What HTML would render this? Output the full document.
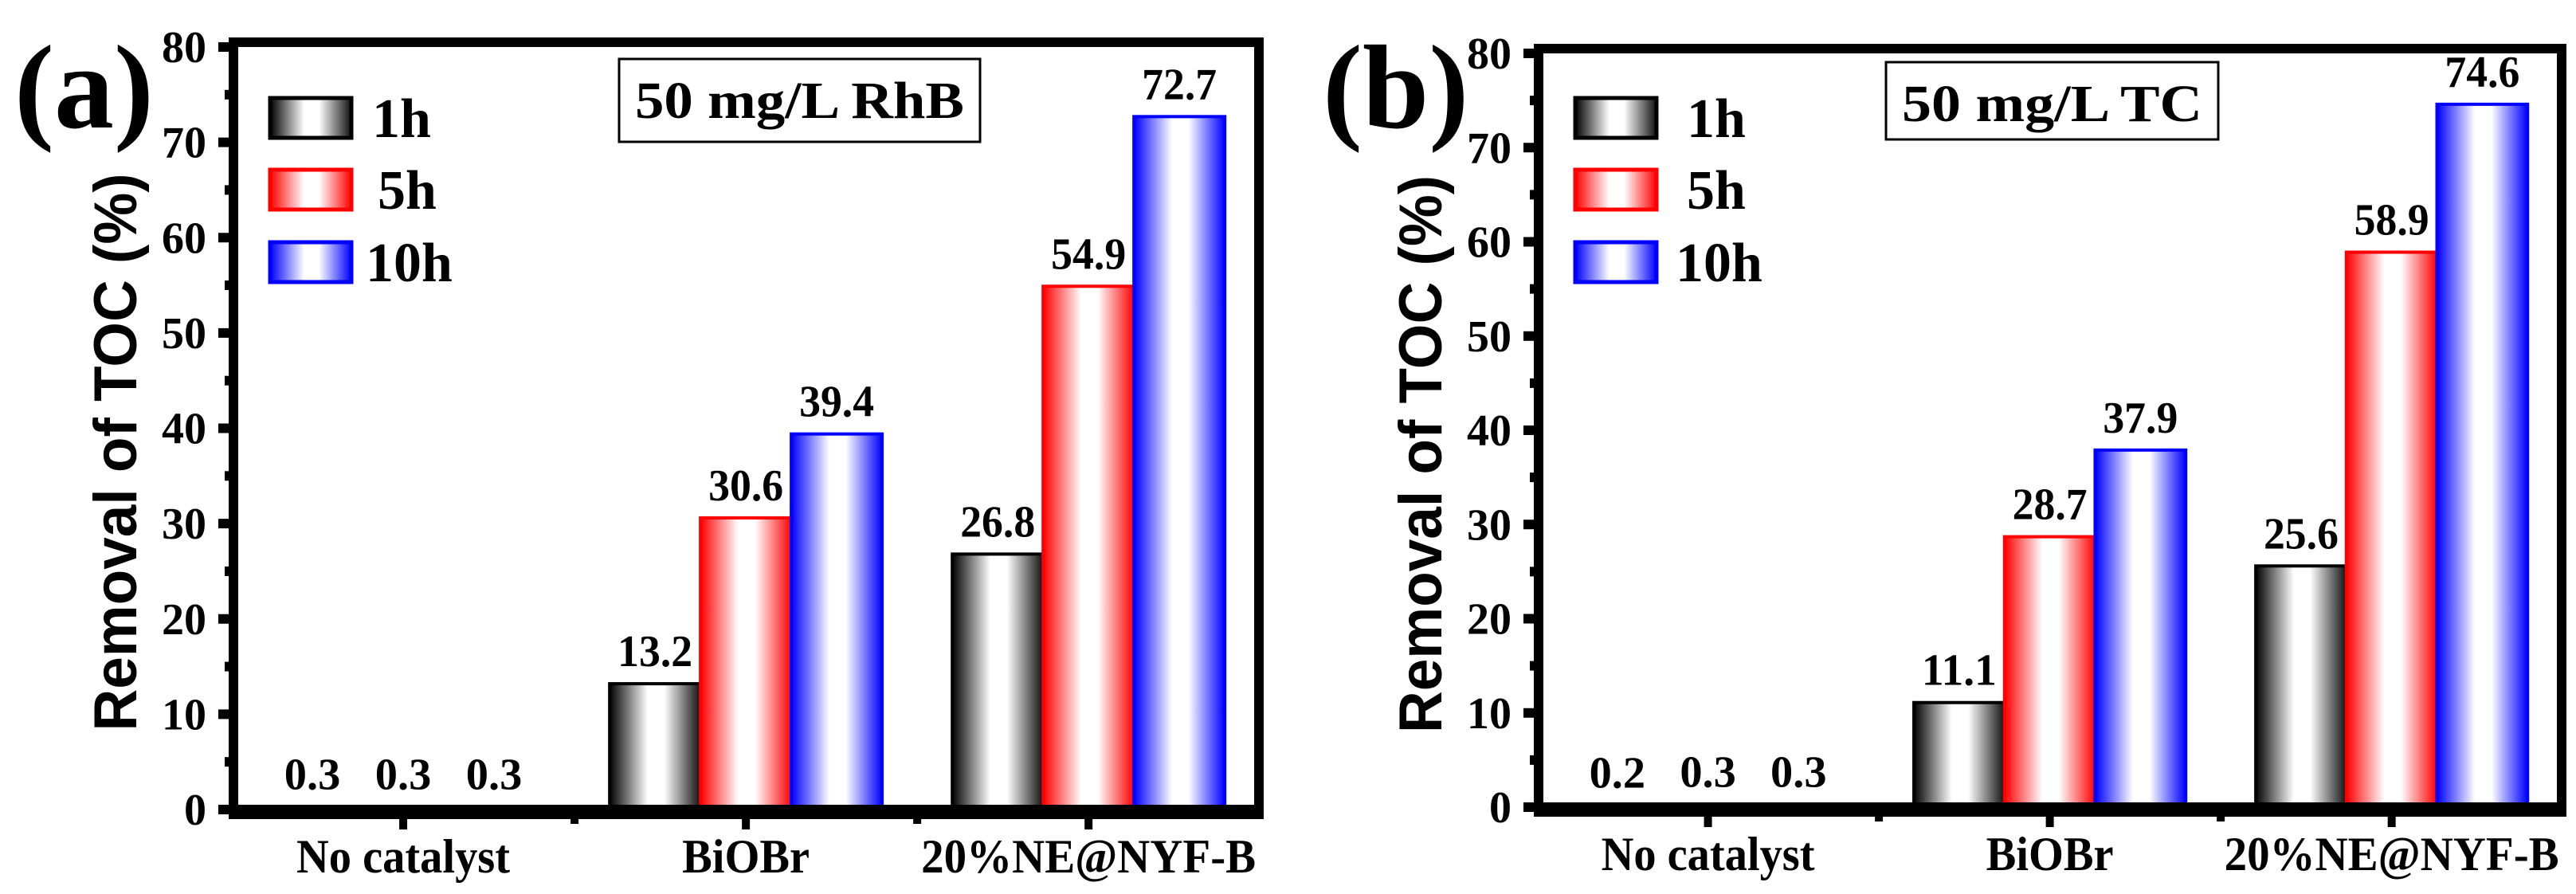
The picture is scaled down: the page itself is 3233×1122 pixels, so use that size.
<!DOCTYPE html>
<html><head><meta charset="utf-8"><style>
html,body{margin:0;padding:0;background:#fff;}
svg{display:block;}
text{font-family:"Liberation Serif",serif;font-weight:bold;fill:#000;}
.sans{font-family:"Liberation Sans",sans-serif;}
</style></head><body>
<svg id="fig" width="3233" height="1122" viewBox="0 0 3233 1122" xmlns="http://www.w3.org/2000/svg">
<defs>
<linearGradient id="g0" x1="0" x2="1" y1="0" y2="0"><stop offset="0" stop-color="#000"/><stop offset="0.42" stop-color="#fff"/><stop offset="0.6" stop-color="#fff"/><stop offset="1" stop-color="#111"/></linearGradient>
<linearGradient id="g1" x1="0" x2="1" y1="0" y2="0"><stop offset="0" stop-color="#ff0000"/><stop offset="0.42" stop-color="#fff"/><stop offset="0.6" stop-color="#fff"/><stop offset="1" stop-color="#ff0000"/></linearGradient>
<linearGradient id="g2" x1="0" x2="1" y1="0" y2="0"><stop offset="0" stop-color="#0000ff"/><stop offset="0.42" stop-color="#fff"/><stop offset="0.6" stop-color="#fff"/><stop offset="1" stop-color="#0000ff"/></linearGradient>
</defs>
</svg>
<script>
const categories = ["No catalyst", "BiOBr", "20%NE@NYF-B"];
const seriesNames = ["1h", "5h", "10h"];
const valuesA1h = [0.3, 13.2, 26.8];
const valuesA5h = [0.3, 30.6, 54.9];
const valuesA10h = [0.3, 39.4, 72.7];
const valuesB1h = [0.2, 11.1, 25.6];
const valuesB5h = [0.3, 28.7, 58.9];
const valuesB10h = [0.3, 37.9, 74.6];
const yTicks = [0, 10, 20, 30, 40, 50, 60, 70, 80];

const NS = "http://www.w3.org/2000/svg";
const svg = document.getElementById('fig');
const strokes = ["#000", "#ff0000", "#0000ff"];
function mk(tag, attrs, parent, txt) {
  const e = document.createElementNS(NS, tag);
  for (const k in attrs) e.setAttribute(k, attrs[k]);
  if (txt !== undefined) e.textContent = txt;
  (parent || svg).appendChild(e);
  return e;
}
function panel(p) {
  const g = mk('g', {});
  
  
  const x0 = p.x0, x1 = p.x1, yT = p.yT, yB = p.yB, w = x1 - x0;
  const yScale = v => yB - v / 80 * (yB - yT);
  const catX = i => x0 + w * (0.1624 + i * 0.3373);
  const bw = w * 0.0894;
  p.series.forEach((vals, j) => {
    vals.forEach((v, i) => {
      const cx = catX(i) + (j - 1) * bw;
      const y = yScale(v);
      const r = mk('rect', {x: cx - bw / 2, y: y, width: bw, height: Math.max(yB - y, 0), fill: 'url(#g' + j + ')', stroke: strokes[j], 'stroke-width': 4}, g);
      
      
      const s = v.toFixed(1);
      const t = mk('text', {x: cx, y: y - 22, 'font-size': 56, 'text-anchor': 'middle', textLength: 23.5 * s.length, lengthAdjust: 'spacingAndGlyphs'}, g, s);
      
      
    });
  });
  const fr = mk('rect', {x: x0 - 6, y: yT - 6, width: w + 12, height: yB - yT + 12, fill: 'none', stroke: '#000', 'stroke-width': 12}, g);
  
  
  const bl = mk('rect', {x: x0 - 12, y: yB - 6, width: w + 24, height: 18, fill: '#000'}, g);
  
  
  yTicks.forEach(v => {
    const y = yScale(v);
    mk('line', {x1: x0 - 25, x2: x0 - 6, y1: y, y2: y, stroke: '#000', 'stroke-width': 12}, g);
    const t = mk('text', {x: x0 - 40, y: y + 19, 'font-size': 56, 'text-anchor': 'end'}, g, String(v));
    
    
    if (v < 80) {
      const ym = yScale(v + 5);
      mk('line', {x1: x0 - 17, x2: x0 - 6, y1: ym, y2: ym, stroke: '#000', 'stroke-width': 12}, g);
    }
  });
  categories.forEach((c, i) => {
    const cx = catX(i);
    mk('line', {x1: cx, x2: cx, y1: yB + 6, y2: yB + 25, stroke: '#000', 'stroke-width': 10}, g);
    const bx = cx + w * 0.3373 / 2;
    if (i < 2) mk('line', {x1: bx, x2: bx, y1: yB + 6, y2: yB + 18, stroke: '#000', 'stroke-width': 10}, g);
    const t = mk('text', {x: cx, y: yB + 79, 'font-size': 60, 'text-anchor': 'middle', textLength: p.catLen[i], lengthAdjust: 'spacingAndGlyphs'}, g, c);
    
    
  });
  const yc = (yT + yB) / 2 + 30;
  const yt = mk('text', {x: 0, y: 0, 'font-size': 76, 'text-anchor': 'middle', class: 'sans', textLength: 700, lengthAdjust: 'spacingAndGlyphs', transform: 'translate(' + (x0 - 128) + ',' + yc + ') rotate(-90)'}, g, 'Removal of TOC (%)');
  
  
  const pl = mk('text', {x: p.lblX, y: 160, 'font-size': 150}, g, p.label);
  
  
  const ys = [123, 213, 304];
  seriesNames.forEach((s, j) => {
    const r = mk('rect', {x: x0 + 40, y: ys[j], width: 102, height: 50, fill: 'url(#g' + j + ')', stroke: strokes[j], 'stroke-width': 5}, g);
    
    
    const t = mk('text', {x: x0 + p.legTx[j], y: ys[j] + 49, 'font-size': 70}, g, s);
    
    
  });
  const ab = mk('rect', {x: p.box[0], y: p.box[1], width: p.box[2], height: p.box[3], fill: '#fff', stroke: '#000', 'stroke-width': 3}, g);
  
  
  const at = mk('text', {x: p.box[0] + p.box[2] / 2, y: p.box[1] + 74, 'font-size': 66, 'text-anchor': 'middle', textLength: p.box[2] - 40, lengthAdjust: 'spacingAndGlyphs'}, g, p.note);
  
  
}
panel({name: 'panel-a', x0: 299, x1: 1574, yT: 59, yB: 1016, series: [valuesA1h, valuesA5h, valuesA10h],
  catLen: [268, 160, 420], lblX: 18, label: '(a)', legTx: [168, 175, 160], box: [777, 74, 453, 104], note: '50 mg/L RhB'});
panel({name: 'panel-b', x0: 1937, x1: 3209, yT: 67, yB: 1013, series: [valuesB1h, valuesB5h, valuesB10h],
  catLen: [268, 160, 420], lblX: 1660, label: '(b)', legTx: [180, 180, 166], box: [2367, 78, 417, 97], note: '50 mg/L TC'});
</script>
</body></html>
